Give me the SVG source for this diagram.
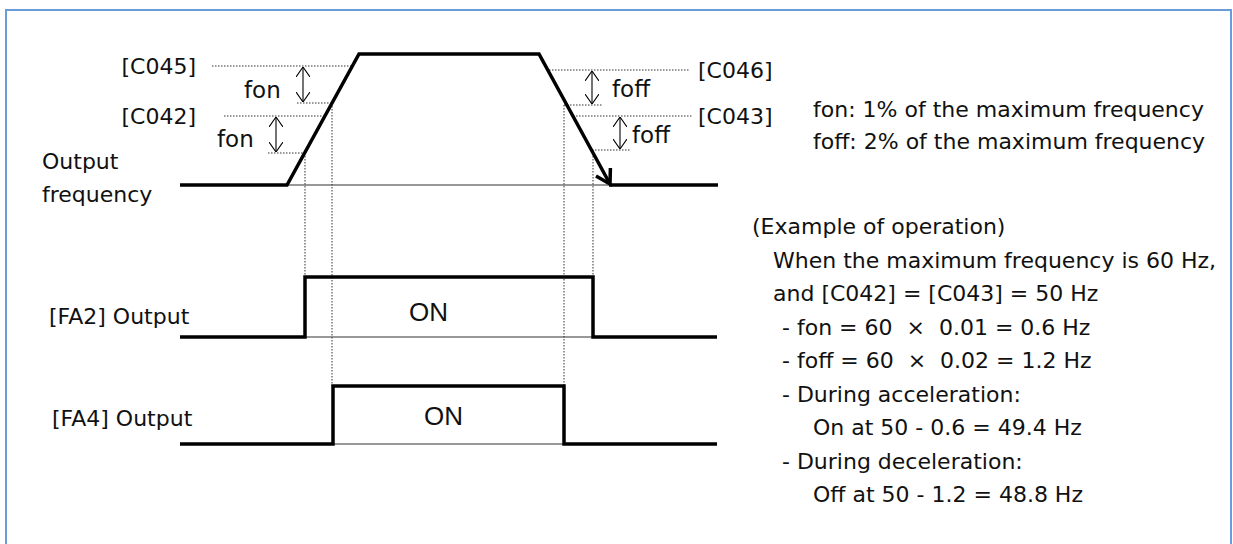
<svg xmlns="http://www.w3.org/2000/svg" width="1233" height="544" viewBox="0 0 1233 544">
<defs>
<style>
.t{font-family:"DejaVu Sans",Verdana,sans-serif;font-size:22px;fill:#111}
.lbl{font-family:"DejaVu Sans",Verdana,sans-serif;font-size:23px;fill:#111}
.on{font-family:"Liberation Sans",Arial,sans-serif;font-size:26px;fill:#111}
.thick{fill:none;stroke:#000;stroke-width:3.5;stroke-linejoin:miter}
.thin{fill:none;stroke:#333;stroke-width:1.2}
.dot{fill:none;stroke:#333;stroke-width:1;stroke-dasharray:1.5 1.5}
.dbl{fill:none;stroke:#000;stroke-width:1.1;marker-start:url(#v);marker-end:url(#v)}
</style>
<marker id="v" viewBox="0 0 10 14" refX="10" refY="7" markerWidth="10" markerHeight="14" markerUnits="userSpaceOnUse" orient="auto-start-reverse">
<path d="M0,0 L10,7 L0,14" fill="none" stroke="#000" stroke-width="1.1"/>
</marker>
</defs>
<rect x="6" y="10" width="1225" height="540" fill="#fff" stroke="#6b9bd8" stroke-width="2"/>

<g id="connectors">
<!-- level dotted lines -->
<line class="dot" x1="212" y1="66" x2="352" y2="66"/>
<line class="dot" x1="297" y1="103" x2="332" y2="103"/>
<line class="dot" x1="224" y1="116" x2="325" y2="116"/>
<line class="dot" x1="268" y1="153" x2="305" y2="153"/>
<line class="dot" x1="549" y1="70" x2="689" y2="70"/>
<line class="dot" x1="564" y1="105" x2="602" y2="105"/>
<line class="dot" x1="573" y1="116" x2="693" y2="116"/>
<line class="dot" x1="592" y1="150" x2="631" y2="150"/>
<!-- vertical dotted lines -->
<line class="dot" x1="305" y1="153" x2="305" y2="277"/>
<line class="dot" x1="332" y1="103" x2="332" y2="386"/>
<line class="dot" x1="564" y1="105" x2="564" y2="386"/>
<line class="dot" x1="593" y1="150" x2="593" y2="277"/>
<!-- double arrows -->
<line class="dbl" x1="303" y1="67" x2="303" y2="102"/>
<line class="dbl" x1="276" y1="117" x2="276" y2="152"/>
<line class="dbl" x1="592" y1="71" x2="592" y2="104"/>
<line class="dbl" x1="620" y1="117" x2="620" y2="149"/>
</g>

<g id="output-frequency">
<line class="thin" x1="287" y1="185" x2="610" y2="185"/>
<polyline class="thick" points="180,185 287,185 359,54 539,54 610,184"/>
<polyline class="thick" points="610.4,168 610,184 596,176"/>
<line class="thick" x1="609" y1="185" x2="718" y2="185"/>
<text class="t" x="42" y="169">Output</text>
<text class="t" x="42" y="202">frequency</text>
<text class="t" x="196" y="74" text-anchor="end">[C045]</text>
<text class="t" x="196" y="124" text-anchor="end">[C042]</text>
<text class="t" x="698" y="78">[C046]</text>
<text class="t" x="698" y="124">[C043]</text>
<text class="lbl" x="244" y="98">fon</text>
<text class="lbl" x="217" y="147">fon</text>
<text class="lbl" x="612" y="97">foff</text>
<text class="lbl" x="632" y="143">foff</text>
</g>

<g id="fa2-output">
<line class="thin" x1="305" y1="337" x2="593" y2="337" stroke="#555"/>
<polyline class="thick" points="180,337 305,337 305,277 593,277 593,337 717,337"/>
<text class="t" x="49" y="324">[FA2] Output</text>
<text class="on" x="409" y="321">ON</text>
</g>

<g id="fa4-output">
<line class="thin" x1="305" y1="444" x2="593" y2="444" stroke="#777"/>
<polyline class="thick" points="180,444 333,444 333,386 564,386 564,444 717,444"/>
<text class="t" x="52" y="426">[FA4] Output</text>
<text class="on" x="424" y="425">ON</text>
</g>

<g id="legend">
<text class="t" x="813" y="117">fon: 1% of the maximum frequency</text>
<text class="t" x="813" y="149">foff: 2% of the maximum frequency</text>
</g>

<g id="example">
<text class="t" x="752" y="234">(Example of operation)</text>
<text class="t" x="773" y="267.5">When the maximum frequency is 60 Hz,</text>
<text class="t" x="773" y="301">and [C042] = [C043] = 50 Hz</text>
<text class="t" x="782" y="334.5" xml:space="preserve">- fon = 60  ×  0.01 = 0.6 Hz</text>
<text class="t" x="782" y="368" xml:space="preserve">- foff = 60  ×  0.02 = 1.2 Hz</text>
<text class="t" x="782" y="401.5">- During acceleration:</text>
<text class="t" x="813" y="435">On at 50 - 0.6 = 49.4 Hz</text>
<text class="t" x="782" y="468.5">- During deceleration:</text>
<text class="t" x="813" y="502">Off at 50 - 1.2 = 48.8 Hz</text>
</g>
</svg>
